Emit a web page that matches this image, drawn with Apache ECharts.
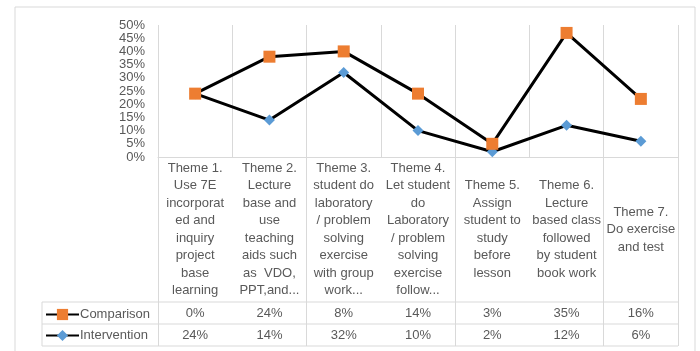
<!DOCTYPE html>
<html>
<head>
<meta charset="utf-8">
<script src="https://cdn.jsdelivr.net/npm/echarts@6/dist/echarts.min.js"></script>
<style>
  html, body { margin: 0; padding: 0; background: #fff; }
  #chart { width: 700px; height: 351px; }
</style>
</head>
<body>
<div id="chart"></div>
<script>
// categories (line breaks as in the table cells)
const themes = [
  'Theme 1.\nUse 7E\nincorporat\ned and\ninquiry\nproject\nbase\nlearning',
  'Theme 2.\nLecture\nbase and\nuse\nteaching\naids such\nas  VDO,\nPPT,and...',
  'Theme 3.\nstudent do\nlaboratory\n/ problem\nsolving\nexercise\nwith group\nwork...',
  'Theme 4.\nLet student\ndo\nLaboratory\n/ problem\nsolving\nexercise\nfollow...',
  'Theme 5.\nAssign\nstudent to\nstudy\nbefore\nlesson',
  'Theme 6.\nLecture\nbased class\nfollowed\nby student\nbook work',
  'Theme 7.\nDo exercise\nand test'
];
// series values (%), stacked as in the original
const comparison = [0, 24, 8, 14, 3, 35, 16];
const intervention = [24, 14, 32, 10, 2, 12, 6];

const textColor = '#595959';
const lineColor = '#d9d9d9';
const font = 'Liberation Sans, Arial, sans-serif';

// table frame, in px
const plotL = 158, plotR = 678, plotT = 25, plotB = 157;
const row1 = 302, row2 = 324, row3 = 346, legendL = 42;

const chart = echarts.init(document.getElementById('chart'));

function hline(y, x1, x2) {
  return { type: 'line', silent: true, shape: { x1: x1, y1: y, x2: x2, y2: y },
    style: { stroke: lineColor, lineWidth: 1 } };
}
function vline(x, y1, y2) {
  return { type: 'line', silent: true, shape: { x1: x, y1: y1, x2: x, y2: y2 },
    style: { stroke: lineColor, lineWidth: 1 } };
}

// one extra x axis per table row, labels read from the value arrays
function valueRow(values, margin) {
  return {
    type: 'category', data: themes, gridIndex: 0, position: 'bottom',
    axisLine: { show: false }, axisTick: { show: false },
    axisLabel: {
      interval: 0, color: textColor, fontSize: 13, verticalAlign: 'middle',
      margin: margin,
      formatter: (v, i) => values[i] + '%'
    }
  };
}

chart.setOption({
  animation: false,
  textStyle: { fontFamily: font },
  grid: [
    { left: plotL, right: 700 - plotR, top: plotT, bottom: 351 - plotB,
      outerBoundsMode: 'none', containLabel: false },
    { left: plotL, right: 700 - plotR, top: plotB, bottom: 351 - row3,
      outerBoundsMode: 'none', containLabel: false }
  ],
  legend: {
    data: ['Comparison', 'Intervention'],
    orient: 'vertical',
    left: 40, top: row1 + 1,
    itemWidth: 33, itemHeight: 14, itemGap: 8,
    textStyle: { color: textColor, fontSize: 13, padding: [0, 0, 0, -4] }
  },
  xAxis: [
    {
      type: 'category', data: themes, gridIndex: 0, position: 'bottom',
      axisLine: { lineStyle: { color: lineColor } },
      axisTick: { show: false },
      splitLine: { show: true, lineStyle: { color: lineColor } },
      axisLabel: {
        interval: 0, color: textColor, fontSize: 13, lineHeight: 17.5,
        verticalAlign: 'middle', align: 'center',
        margin: (row1 - plotB) / 2
      }
    },
    valueRow(comparison, (row1 + row2) / 2 - plotB),
    valueRow(intervention, (row2 + row3) / 2 - plotB),
    {
      type: 'category', data: themes, gridIndex: 1,
      axisLine: { show: false }, axisTick: { show: false }, axisLabel: { show: false },
      splitLine: { show: true, lineStyle: { color: lineColor } }
    }
  ],
  yAxis: [
    {
      type: 'value', gridIndex: 0, min: 0, max: 50, interval: 5,
      axisLine: { show: false }, axisTick: { show: false },
      splitLine: { show: false },
      axisLabel: { color: textColor, fontSize: 13, margin: 13, formatter: '{value}%' }
    },
    { type: 'value', gridIndex: 1, show: false }
  ],
  graphic: [
    { type: 'rect', silent: true, shape: { x: 15, y: 7, width: 680, height: 350 },
      style: { fill: 'none', stroke: lineColor, lineWidth: 1 } },
    hline(row1, legendL, plotR),
    hline(row2, legendL, plotR),
    hline(row3, legendL, plotR),
    vline(legendL, row1, row3)
  ],
  series: [
    {
      name: 'Intervention', type: 'line', stack: 'total', data: intervention,
      xAxisIndex: 0, yAxisIndex: 0,
      symbol: 'diamond', symbolSize: 11,
      lineStyle: { color: '#000', width: 3 },
      itemStyle: { color: '#5B9BD5' }
    },
    {
      name: 'Comparison', type: 'line', stack: 'total', data: comparison,
      xAxisIndex: 0, yAxisIndex: 0,
      symbol: 'rect', symbolSize: 12,
      lineStyle: { color: '#000', width: 3 },
      itemStyle: { color: '#ED7D31' }
    }
  ]
});
</script>
</body>
</html>
